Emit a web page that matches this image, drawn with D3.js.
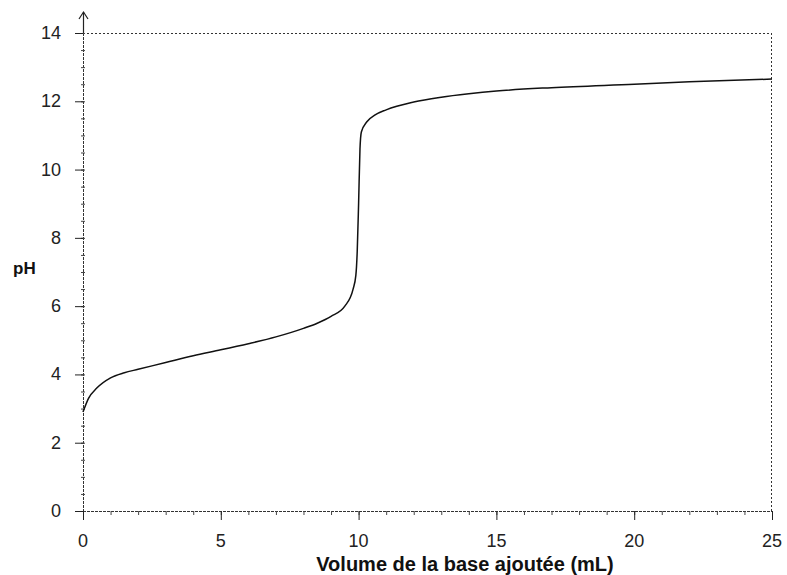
<!DOCTYPE html>
<html>
<head>
<meta charset="utf-8">
<script src="https://cdn.jsdelivr.net/npm/d3@7"></script>
<style>
  body { margin: 0; background: #fff; }
  .tick-label { font-family: "Liberation Sans", Arial, sans-serif; font-size: 18px; fill: #222; }
  .axis-title { font-family: "Liberation Sans", Arial, sans-serif; font-weight: bold; fill: #111; }
</style>
</head>
<body>
<script>

// titration curve
var volumes = [0, 0.2, 0.5, 1, 1.5, 2, 3, 4, 5, 6, 7, 8, 8.5, 9, 9.5, 9.8, 9.9,
               9.95, 10.0, 10.05, 10.1, 10.3, 10.6, 11, 12, 13, 14, 15, 17, 20, 22, 25];
var phValues = [2.9, 3.3, 3.6, 3.9, 4.05, 4.15, 4.35, 4.55, 4.72, 4.9, 5.1, 5.35, 5.5, 5.7, 6.0, 6.5, 6.9,
                7.6, 9.0, 10.6, 11.1, 11.4, 11.6, 11.75, 11.98, 12.12, 12.22, 12.3, 12.4, 12.5, 12.57, 12.65];

// tick labels
var xTicks = [0, 5, 10, 15, 20, 25];
var yTicks = [0, 2, 4, 6, 8, 10, 12, 14];
var xMinorTicks = d3.range(0, 26, 1);
var yMinorTicks = d3.range(0, 14.5, 0.5);

var xTitle = "Volume de la base ajoutée (mL)";
var yTitle = "pH";

window.onload = function() {
  main();
};


function main() {
  /*
  Main function, builds the svg and draws the chart
  */

  var param = {
    width: 787,
    height: 575
  };
  var plot = {
    left: 83,
    right: 772,
    top: 33,
    bottom: 511
  };

  var svg = d3.select("body")
              .append("svg")
              .attr("width", param.width)
              .attr("height", param.height);

  var xScale = d3.scaleLinear()
                 .domain([0, 25])
                 .range([plot.left, plot.right]);
  var yScale = d3.scaleLinear()
                 .domain([0, 14])
                 .range([plot.bottom, plot.top]);

  axesMaker(svg, plot, xScale, yScale);
  curvePlotter(svg, xScale, yScale);
};


function axesMaker(svg, plot, xScale, yScale) {
  /*
  Dotted frame, ticks, labels and the arrow on the y axis
  */

  var frame = svg.append("g")
                 .attr("fill", "none")
                 .attr("stroke", "#333")
                 .attr("stroke-width", 1)
                 .attr("stroke-dasharray", "2,2");

  // top and right border
  frame.append("line")
       .attr("x1", plot.left).attr("x2", plot.right)
       .attr("y1", plot.top + 0.5).attr("y2", plot.top + 0.5);
  frame.append("line")
       .attr("x1", plot.right - 0.5).attr("x2", plot.right - 0.5)
       .attr("y1", plot.top).attr("y2", plot.bottom);

  // axes lines
  frame.append("line")
       .attr("x1", plot.left).attr("x2", plot.right)
       .attr("y1", plot.bottom + 0.5).attr("y2", plot.bottom + 0.5)
       .attr("stroke-dasharray", "3,1");
  frame.append("line")
       .attr("x1", plot.left + 0.5).attr("x2", plot.left + 0.5)
       .attr("y1", plot.top).attr("y2", plot.bottom)
       .attr("stroke-dasharray", "3,1");

  // arrow on top of the y axis
  var arrow = svg.append("g")
                 .attr("fill", "none")
                 .attr("stroke", "#222")
                 .attr("stroke-width", 1.2);
  arrow.append("line")
       .attr("x1", plot.left + 0.5).attr("x2", plot.left + 0.5)
       .attr("y1", plot.top).attr("y2", 12);
  arrow.append("path")
       .attr("d", "M" + (plot.left - 4) + ",19 L" + (plot.left + 0.5) + ",12 L" + (plot.left + 5) + ",19");

  // minor ticks
  svg.append("g")
     .selectAll("line")
     .data(xMinorTicks)
     .join("line")
     .attr("x1", function(d) { return xScale(d) + 0.5; })
     .attr("x2", function(d) { return xScale(d) + 0.5; })
     .attr("y1", plot.bottom)
     .attr("y2", plot.bottom + 4)
     .attr("stroke", "#444");
  svg.append("g")
     .selectAll("line")
     .data(yMinorTicks)
     .join("line")
     .attr("x1", plot.left - 2)
     .attr("x2", plot.left + 2)
     .attr("y1", function(d) { return yScale(d) + 0.5; })
     .attr("y2", function(d) { return yScale(d) + 0.5; })
     .attr("stroke", "#444");

  // major ticks
  svg.append("g")
     .selectAll("line")
     .data(xTicks)
     .join("line")
     .attr("x1", function(d) { return xScale(d) + 0.5; })
     .attr("x2", function(d) { return xScale(d) + 0.5; })
     .attr("y1", plot.bottom)
     .attr("y2", plot.bottom + 9)
     .attr("stroke", "#222");
  svg.append("g")
     .selectAll("line")
     .data(yTicks)
     .join("line")
     .attr("x1", plot.left - 8)
     .attr("x2", plot.left)
     .attr("y1", function(d) { return yScale(d) + 0.5; })
     .attr("y2", function(d) { return yScale(d) + 0.5; })
     .attr("stroke", "#222");

  // tick labels
  svg.append("g")
     .selectAll("text")
     .data(xTicks)
     .join("text")
     .attr("class", "tick-label")
     .attr("x", function(d) { return xScale(d); })
     .attr("y", 547)
     .attr("text-anchor", "middle")
     .text(function(d) { return d; });
  svg.append("g")
     .selectAll("text")
     .data(yTicks)
     .join("text")
     .attr("class", "tick-label")
     .attr("x", 61)
     .attr("y", function(d) { return yScale(d) + 6; })
     .attr("text-anchor", "end")
     .text(function(d) { return d; });

  // axis titles
  svg.append("text")
     .attr("class", "axis-title")
     .attr("x", 465)
     .attr("y", 571)
     .attr("text-anchor", "middle")
     .style("font-size", "20px")
     .text(xTitle);
  svg.append("text")
     .attr("class", "axis-title")
     .attr("x", 13)
     .attr("y", 274)
     .style("font-size", "17px")
     .text(yTitle);
};


function curvePlotter(svg, xScale, yScale) {
  /*
  Draws the titration curve
  */

  var points = volumes.map(function(v, i) {
    return [v, phValues[i]];
  });

  var line = d3.line()
               .x(function(d) { return xScale(d[0]); })
               .y(function(d) { return yScale(d[1]); })
               .curve(d3.curveMonotoneX);

  svg.append("path")
     .datum(points)
     .attr("fill", "none")
     .attr("stroke", "#111")
     .attr("stroke-width", 1.5)
     .attr("d", line);
};

</script>
</body>
</html>
